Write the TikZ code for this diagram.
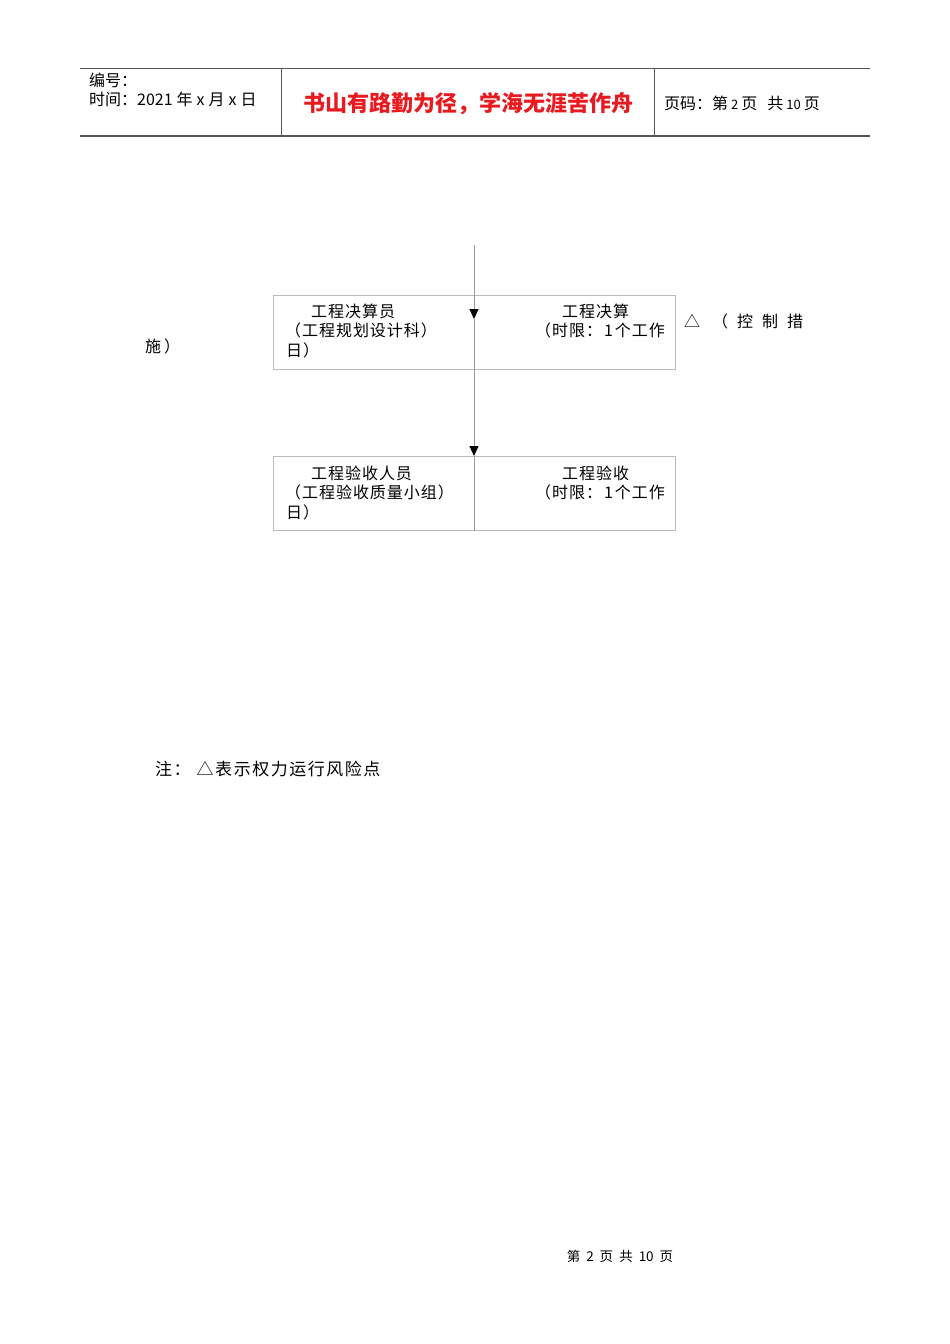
\documentclass[tikz,border=0pt]{standalone}
\usepackage{fontspec}
\setmainfont{Noto Sans CJK SC}
\newfontfamily\cjk{Noto Sans CJK SC}
\newfontfamily\cjksp[LetterSpace=6]{Noto Sans CJK SC}
\newfontfamily\cjknote[LetterSpace=9]{Noto Sans CJK SC}
\usetikzlibrary{arrows.meta}
\definecolor{boxgray}{HTML}{BBBBBB}
\definecolor{linegray}{HTML}{999999}
\definecolor{hdrgray}{HTML}{555555}
\definecolor{titlered}{HTML}{E8191F}
\tikzset{
  flowbox/.style={draw=boxgray, line width=1pt, minimum width=402pt, minimum height=74pt, inner sep=0pt},
  boxtxt/.style={anchor=west, inner sep=0pt, font=\fontsize{16pt}{17pt}\selectfont\cjksp},
  hdrtxt/.style={anchor=west, inner sep=0pt, font=\fontsize{16pt}{17pt}\selectfont\cjk},
  flow/.style={draw=linegray, line width=0.9pt},
  tip/.style={-{Triangle[width=9pt,length=10pt,color=black]}}
}
\newcommand{\smn}[1]{{\fontsize{13pt}{14pt}\selectfont #1}}
\begin{document}
\begin{tikzpicture}[x=1pt,y=-1pt]
\useasboundingbox[fill=white] (0,0) rectangle (950,1344);
% header
\draw[hdrgray, line width=1pt] (80,68) -- (870,68);
\draw[hdrgray, line width=1.6pt] (80,136) -- (870,136);
\draw[hdrgray, line width=1pt] (281,68) -- (281,136);
\draw[hdrgray, line width=1pt] (654,68) -- (654,136);
\node[hdrtxt] (h1) at (89,80) {编号：};
\node[hdrtxt] (h2) at (89,99) {时间：2021\hspace{4pt}年\hspace{4pt}x\hspace{4pt}月\hspace{4pt}x\hspace{4pt}日};
\node[inner sep=0pt, text=titlered, font=\fontsize{22pt}{24pt}\selectfont\cjk\bfseries] (title) at (468,104) {书山有路勤为径，学海无涯苦作舟};
\node[hdrtxt] (h3) at (664,103) {页码：第\hspace{3pt}\smn{2}\hspace{3pt}页\hspace{10pt}共\hspace{3pt}\smn{10}\hspace{3pt}页};
% boxes
\node[flowbox] (b1) at (474,332) {};
\node[flowbox] (b2) at (474,493.5) {};
\coordinate (top) at (474,245);
\coordinate (a1tip) at (474,319);
\draw[flow, tip] (top) -- (a1tip);
\draw[flow] (a1tip) -- (b1.south);
\draw[flow, tip] (b1.south) -- (b2.north);
\draw[flow] (b2.north) -- (b2.south);
% box1 text
\node[boxtxt] (t11) at (311,311) {工程决算员};
\node[boxtxt] (t12) at (285,330) {（工程规划设计科）};
\node[boxtxt] (t13) at (286,350) {日）};
\node[boxtxt] (t14) at (562,311) {工程决算};
\node[boxtxt] (t15) at (535,330) {（时限：\hspace{2pt}1\hspace{2pt}个工作};
% box2 text
\node[boxtxt] (t21) at (311,473) {工程验收人员};
\node[boxtxt] (t22) at (285,492) {（工程验收质量小组）};
\node[boxtxt] (t23) at (286,512) {日）};
\node[boxtxt] (t24) at (562,473) {工程验收};
\node[boxtxt] (t25) at (535,492) {（时限：\hspace{2pt}1\hspace{2pt}个工作};
% side text
\node[boxtxt, font=\fontsize{16pt}{17pt}\selectfont\cjk] (s1) at (684,321) {△\hspace{12pt}（\hspace{9pt}控\hspace{9pt}制\hspace{9pt}措};
\node[boxtxt, font=\fontsize{16pt}{17pt}\selectfont\cjk] (s2) at (145,346) {施\hspace{3pt}）};
% note
\node[boxtxt, font=\fontsize{17pt}{18pt}\selectfont\cjknote] (note) at (155,769) {注：\hspace{6pt}△表示权力运行风险点};
% footer
\node[inner sep=0pt, font=\fontsize{13.5pt}{14pt}\selectfont\cjk] (foot) at (620,1256) {第\hspace{6pt}2\hspace{6pt}页\hspace{6pt}共\hspace{6pt}10\hspace{6pt}页};
\end{tikzpicture}
\end{document}
